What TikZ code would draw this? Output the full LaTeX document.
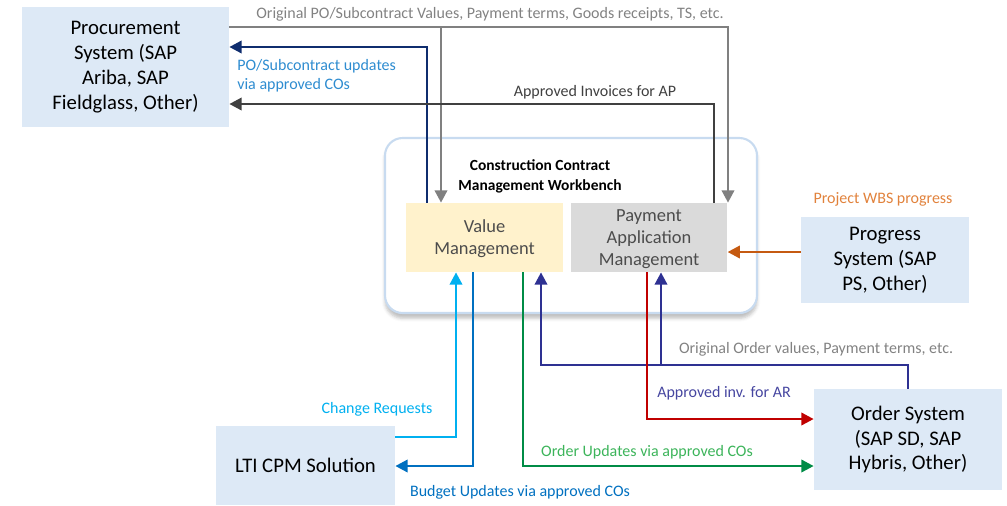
\documentclass[tikz,border=0pt]{standalone}
\usepackage{fontspec}
\setmainfont{Carlito}
\usetikzlibrary{arrows.meta,shadows.blur}
\definecolor{sysblue}{RGB}{221,233,246}
\definecolor{valfill}{RGB}{255,242,204}
\definecolor{payfill}{RGB}{218,218,218}
\definecolor{wbline}{RGB}{200,219,240}
\definecolor{lgray}{RGB}{128,128,128}
\definecolor{lgraytxt}{RGB}{130,130,130}
\definecolor{dgray}{RGB}{64,64,64}
\definecolor{navy}{RGB}{15,45,110}
\definecolor{poblue}{RGB}{46,140,208}
\definecolor{wbsorange}{RGB}{197,90,17}
\definecolor{wbstxt}{RGB}{225,130,60}
\definecolor{crblue}{RGB}{0,176,240}
\definecolor{budblue}{RGB}{0,112,192}
\definecolor{ordgreen}{RGB}{0,140,70}
\definecolor{ordtxt}{RGB}{60,180,90}
\definecolor{indigo}{RGB}{46,49,146}
\definecolor{artxt}{RGB}{70,70,160}
\definecolor{arred}{RGB}{192,0,0}
\tikzset{
  sys/.style={fill=sysblue, align=center, inner sep=0pt, text=black,
    font=\fontsize{11.8}{14.2}\selectfont},
  module/.style={align=center, inner sep=0pt, text=black!70,
    minimum width=3.13cm, minimum height=1.38cm,
    font=\fontsize{10.5}{12.5}\selectfont},
  flow/.style={line width=1.5pt, -{Triangle[length=7pt,width=7pt]}},
  lbl/.style={inner sep=0pt, font=\fontsize{9.1}{10.8}\selectfont},
}
\begin{document}
\begin{tikzpicture}[x=0.02cm,y=-0.02cm]
\useasboundingbox (0,0) rectangle (1007,505);
\draw[wbline, line width=1.2pt, rounded corners=10pt, fill=white,
  blur shadow={shadow xshift=0pt, shadow yshift=-3pt, shadow opacity=25}]
  (385,138) rectangle (757,313);
\node[font=\bfseries\fontsize{8.8}{11.3}\selectfont, align=center] (wbtitle)
  at (540,176) {Construction Contract\\Management Workbench};
\node[module, fill=valfill, text depth=-3pt] (val) at (484.5,237.5) {Value\\Management};
\node[module, fill=payfill, text depth=-3pt] (pay) at (649,237.5) {Payment\\Application\\Management};
\node[sys, minimum width=4.14cm, minimum height=2.4cm] (proc) at (125.5,67)
  {Procurement\\System (SAP\\Ariba, SAP\\Fieldglass, Other)};
\node[sys, minimum width=3.36cm, minimum height=1.72cm] (prog) at (885,260)
  {Progress\\System (SAP\\PS, Other)};
\node[sys, minimum width=3.58cm, minimum height=1.58cm] (lti) at (305.5,465.5)
  {LTI CPM Solution};
\node[sys, minimum width=3.76cm, minimum height=2.02cm] (ord) at (908,439.5)
  {Order System\\(SAP SD, SAP\\Hybris, Other)};
\coordinate (pojoin) at (441,27);
\coordinate (ordjoin) at (661,365);
\draw[flow, lgray] (proc.east |- pojoin) -| (pay.north -| 728,0);
\draw[flow, lgray] (pojoin) -- (val.north -| pojoin);
\draw[flow, navy] (val.north -| 427,0) |- (proc.east |- 0,47);
\draw[flow, dgray] (pay.north -| 714,0) |- (proc.east |- 0,104);
\draw[flow, wbsorange] (prog.west |- 0,252) -- (pay.east |- 0,252);
\draw[flow, crblue] (lti.east |- 0,437) -| (val.south -| 456,0);
\draw[flow, budblue] (val.south -| 473,0) |- (lti.east |- 0,466);
\draw[flow, ordgreen] (val.south -| 523,0) |- (ord.west |- 0,466);
\draw[flow, indigo] (ord.north -| 908,0) |- (541,365) -- (val.south -| 541,0);
\draw[flow, indigo] (ordjoin) -- (pay.south -| ordjoin);
\draw[flow, arred] (pay.south -| 647,0) |- (ord.west |- 0,419);
\node[lbl, text=lgraytxt] (povals) at (490,14)
  {Original PO/Subcontract Values, Payment terms, Goods receipts, TS, etc.};
\node[lbl, text=poblue, align=left, anchor=west] (poupd) at (237,76)
  {PO/Subcontract updates\\via approved COs};
\node[lbl, text=dgray] (invap) at (595,92) {Approved Invoices for AP};
\node[lbl, text=wbstxt] (wbs) at (883,199) {Project WBS progress};
\node[lbl, text=crblue] (chreq) at (377,409) {Change Requests};
\node[lbl, text=budblue] (budupd) at (520,492) {Budget Updates via approved COs};
\node[lbl, text=ordtxt] (ordupd) at (647,452) {Order Updates via approved COs};
\node[lbl, text=lgraytxt] (ordvals) at (816,349)
  {Original Order values, Payment terms, etc.};
\node[lbl, text=artxt] (invar) at (724,393) {Approved inv. for AR};
\end{tikzpicture}
\end{document}
